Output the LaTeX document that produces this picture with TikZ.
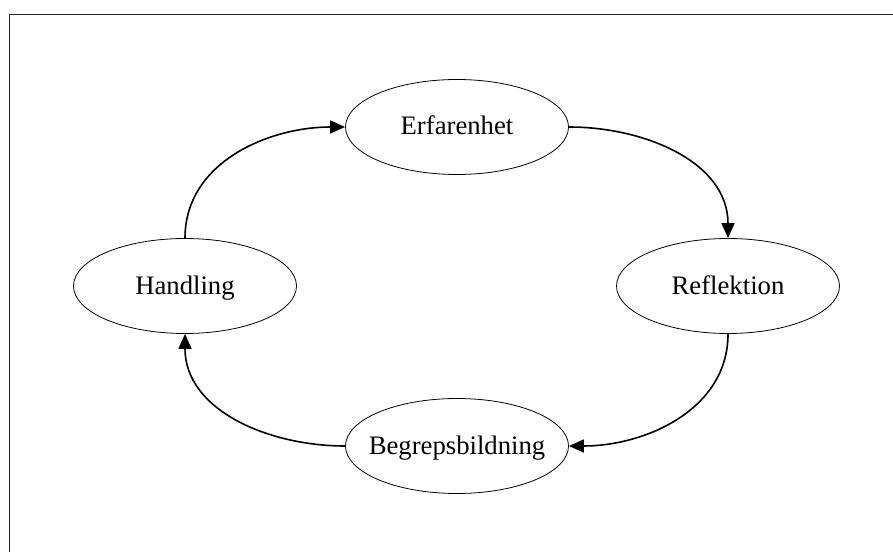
\documentclass[tikz,border=0pt]{standalone}
\usepackage{fontspec}
\setmainfont{Liberation Serif}
\usetikzlibrary{shapes.geometric,arrows.meta}
\begin{document}
\begin{tikzpicture}[x=1pt,y=1pt,
  stage/.style={ellipse,draw,line width=0.8pt,minimum width=223pt,minimum height=95pt,inner sep=0pt,text height=20pt,text depth=4pt,font=\fontsize{26.7}{30}\selectfont},
  flow/.style={line width=1.6pt,-{Triangle[length=15pt,width=13pt]}},
  frame/.style={line width=1.3pt,draw=black!85}]
\useasboundingbox (0,0) rectangle (893,552);
\coordinate (fr) at (893,537.5);
\coordinate (fc) at (9.5,537.5);
\coordinate (fb) at (9.5,0);
\draw[frame] (fr) -- (fc) -- (fb);
\node[stage] (E) at (457,425) {\makebox[0pt]{Erfarenhet}};
\node[stage] (R) at (728,266) {\makebox[0pt]{Reflektion}};
\node[stage] (B) at (457,106) {\makebox[0pt]{Begrepsbildning}};
\node[stage] (H) at (185,266) {\makebox[0pt]{Handling}};
\draw[flow] (H.north) to[out=90,in=180] (E.west);
\draw[flow] (E.east) to[out=0,in=90] (R.north);
\draw[flow] (R.south) to[out=-90,in=0] (B.east);
\draw[flow] (B.west) to[out=180,in=-90] (H.south);
\end{tikzpicture}
\end{document}
